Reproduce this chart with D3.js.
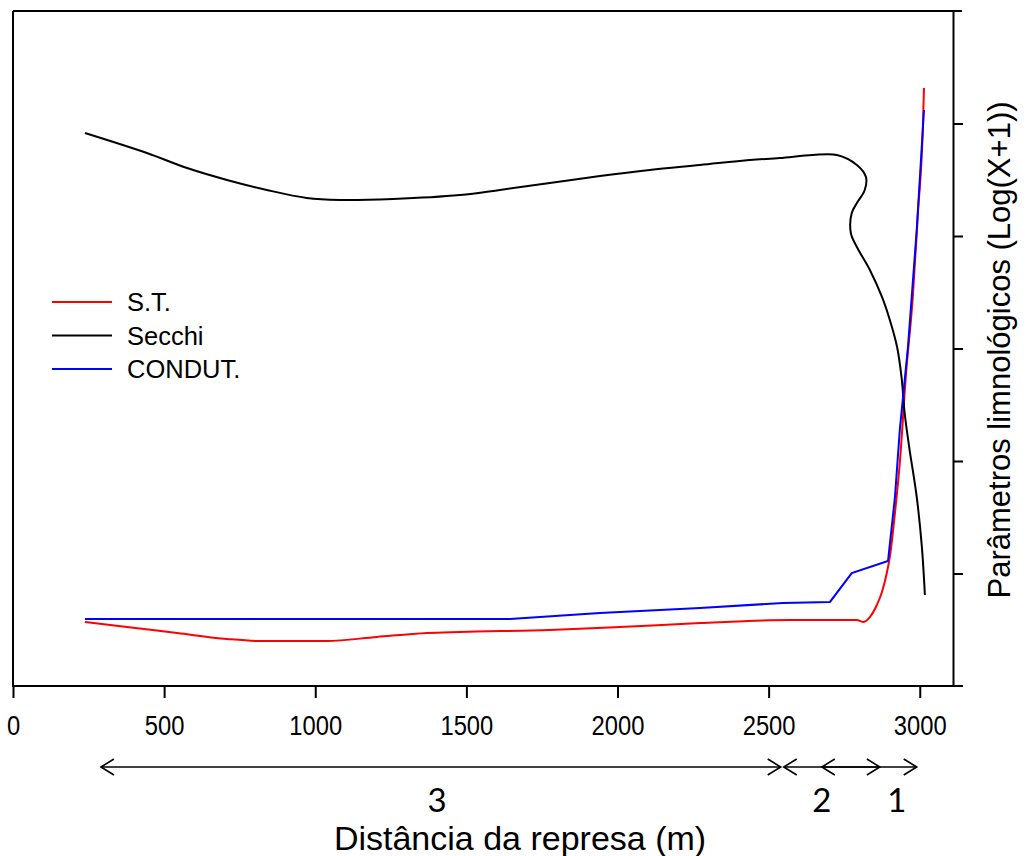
<!DOCTYPE html>
<html>
<head>
<meta charset="utf-8">
<script src="https://cdn.jsdelivr.net/npm/d3@7"></script>
<style>
  body { margin: 0; background: #fff; }
  text { font-family: "Liberation Sans", Arial, sans-serif; fill: #000; }
</style>
</head>
<body>
<div class="chart"></div>
<script>
// valores (distância em m, parâmetro em Log(X+1))
const distST = [238, 377, 543, 708, 817, 1039, 1204, 1370, 1479, 1776, 2008, 2273, 2570, 2792, 2812, 2835, 2858, 2875, 2891, 2901, 2918, 2934, 2954, 2977, 2994, 3010, 3014];
const valST  = [0.569, 0.524, 0.471, 0.418, 0.400, 0.400, 0.436, 0.471, 0.480, 0.498, 0.524, 0.560, 0.587, 0.587, 0.569, 0.613, 0.720, 0.836, 1.004, 1.147, 1.538, 1.982, 2.756, 3.458, 4.204, 4.942, 5.316];

const distSecchi = [238, 443, 576, 708, 840, 972, 1082, 1257, 1479, 1611, 1776, 1942, 2107, 2273, 2438, 2537, 2646, 2726, 2792, 2822, 2818, 2792, 2775, 2772, 2792, 2835, 2875, 2901, 2925, 2940, 2950, 2965, 2990, 3007, 3017];
const valSecchi  = [4.916, 4.738, 4.604, 4.498, 4.409, 4.338, 4.320, 4.329, 4.364, 4.409, 4.471, 4.533, 4.587, 4.631, 4.676, 4.693, 4.720, 4.720, 4.631, 4.524, 4.409, 4.293, 4.204, 4.027, 3.902, 3.698, 3.458, 3.253, 3.013, 2.738, 2.427, 2.124, 1.680, 1.236, 0.809];

const distCond = [238, 1644, 1942, 2273, 2547, 2703, 2775, 2895, 2918, 2934, 2961, 2990, 3014];
const valCond  = [0.596, 0.596, 0.649, 0.693, 0.738, 0.747, 1.004, 1.111, 1.680, 2.276, 3.013, 4.053, 5.120];

const xTicks = [0, 500, 1000, 1500, 2000, 2500, 3000];
const yTicks = [1, 2, 3, 4, 5];

const seriesNames = ["S.T.", "Secchi", "CONDUT."];
const seriesColors = ["#ff0000", "#000000", "#0000ff"];

// zonas (setas abaixo do eixo)
const zoneStart = [291, 2550, 2676];
const zoneEnd   = [2540, 2868, 2990];
const zoneLabel = ["3", "2", "1"];
const zoneLabelPos = [1403, 2676, 2924];

const width = 1027, height = 856;
const svg = d3.select('.chart').append('svg')
    .attr('width', width)
    .attr('height', height);

const x = d3.scaleLinear().domain([0, 3110]).range([13, 953]);
const y = d3.scaleLinear().domain([0, 6]).range([686, 11]);

// moldura
svg.append('line').attr('x1', 13).attr('x2', 962).attr('y1', 11).attr('y2', 11)
    .attr('stroke', '#000').attr('stroke-width', 2);
svg.append('line').attr('x1', 13).attr('x2', 13).attr('y1', 11).attr('y2', 686)
    .attr('stroke', '#000').attr('stroke-width', 2);
svg.append('line').attr('x1', 12).attr('x2', 963).attr('y1', 686).attr('y2', 686)
    .attr('stroke', '#000').attr('stroke-width', 2);

// eixo x
const gx = svg.append('g')
    .attr('transform', 'translate(0,686)')
    .call(d3.axisBottom(x).tickValues(xTicks).tickFormat(d3.format('d')).tickSize(12).tickSizeOuter(0));
gx.select('.domain').remove();
gx.selectAll('line').attr('stroke-width', 2);
gx.selectAll('text')
    .attr('y', 49).attr('dy', 0)
    .attr('transform', 'scale(0.88,1)')
    .style('font-size', '27px')
    .style('font-family', '"Liberation Sans", Arial, sans-serif');

// eixo y (direita)
const gy = svg.append('g')
    .attr('transform', 'translate(953,0)')
    .call(d3.axisRight(y).tickValues(yTicks).tickSize(10).tickSizeOuter(0).tickFormat(''));
gy.select('.domain').attr('stroke-width', 2);
gy.selectAll('line').attr('stroke-width', 2);

svg.append('text')
    .attr('transform', 'translate(1010,350) rotate(-90)')
    .attr('text-anchor', 'middle')
    .style('font-size', '31px')
    .text('Parâmetros limnológicos (Log(X+1))');

// linhas
const series = [
  { xs: distST, ys: valST, curve: d3.curveMonotoneX },
  { xs: distSecchi, ys: valSecchi, curve: d3.curveCatmullRom },
  { xs: distCond, ys: valCond, curve: d3.curveLinear }
];

series.forEach((s, i) => {
  const pts = s.xs.map((d, j) => [d, s.ys[j]]);
  svg.append('path')
      .datum(pts)
      .attr('fill', 'none')
      .attr('stroke', seriesColors[i])
      .attr('stroke-width', 2)
      .attr('d', d3.line().x(d => x(d[0])).y(d => y(d[1])).curve(s.curve));
});

// legenda
const legend = svg.append('g').attr('transform', 'translate(52,302)');
seriesNames.forEach((name, i) => {
  const g = legend.append('g').attr('transform', `translate(0,${i * 33.5})`);
  g.append('line').attr('x1', 0).attr('x2', 60).attr('y1', 0).attr('y2', 0)
      .attr('stroke', seriesColors[i]).attr('stroke-width', 2);
  g.append('text').attr('x', 75).attr('y', 9)
      .style('font-size', '25.5px')
      .text(name);
});

// setas das zonas
const arrowY = 767;
const chevron = (tip, dir) => `M${tip - dir * 13},${arrowY - 8}L${tip},${arrowY}L${tip - dir * 13},${arrowY + 8}`;
zoneStart.forEach((s, i) => {
  const x0 = x(s), x1 = x(zoneEnd[i]);
  svg.append('line').attr('x1', x0).attr('x2', x1).attr('y1', arrowY).attr('y2', arrowY)
      .attr('stroke', '#000').attr('stroke-width', 1.6);
  svg.append('path').attr('d', chevron(x0, -1)).attr('fill', 'none')
      .attr('stroke', '#000').attr('stroke-width', 1.6);
  svg.append('path').attr('d', chevron(x1, 1)).attr('fill', 'none')
      .attr('stroke', '#000').attr('stroke-width', 1.6);
  svg.append('text')
      .attr('x', x(zoneLabelPos[i]))
      .attr('y', 812)
      .attr('text-anchor', 'middle')
      .style('font-family', 'Lato, "Open Sans", sans-serif')
      .style('font-size', '33px')
      .text(zoneLabel[i]);
});

svg.append('text')
    .attr('x', 520).attr('y', 850)
    .attr('text-anchor', 'middle')
    .style('font-size', '34px')
    .text('Distância da represa (m)');
</script>
</body>
</html>
